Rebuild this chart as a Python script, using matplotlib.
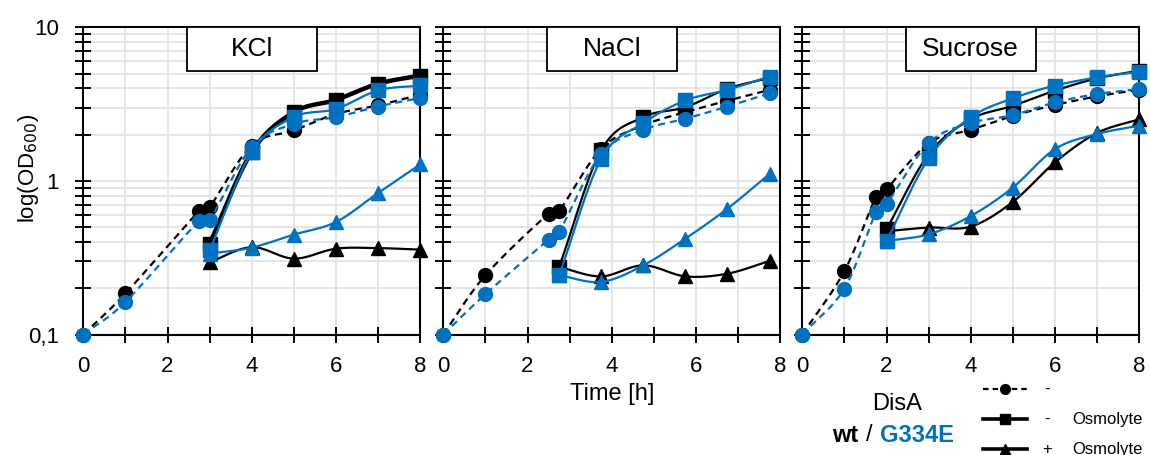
import numpy as np
import matplotlib
matplotlib.use("Agg")
import matplotlib.pyplot as plt
from matplotlib.patches import Rectangle
from matplotlib.lines import Line2D
from matplotlib.ticker import FixedLocator, NullFormatter

plt.rcParams['font.family'] = ['Liberation Sans', 'DejaVu Sans']

BLUE = '#0070C0'
BLACK = '#000000'

panel_names = ['KCl', 'NaCl', 'Sucrose']

# ---- KCl ----
kcl_t_pre = [0, 1, 2.75, 3, 4, 5, 6, 7, 8]
kcl_wt_pre = [0.1, 0.185, 0.636, 0.676, 1.70, 2.13, 2.73, 3.10, 3.65]
kcl_g_pre = [0.1, 0.163, 0.550, 0.555, 1.66, 2.35, 2.60, 3.05, 3.47]
kcl_t_osm = [3, 4, 5, 6, 7, 8]
kcl_wt_minus = [0.39, 1.54, 2.80, 3.37, 4.29, 4.85]
kcl_g_minus = [0.353, 1.54, 2.60, 2.94, 3.88, 4.18]
kcl_wt_plus = [0.296, 0.37, 0.312, 0.362, 0.365, 0.357]
kcl_g_plus = [0.336, 0.368, 0.447, 0.54, 0.833, 1.28]

# ---- NaCl ----
nacl_t_pre = [0, 1, 2.5, 2.75, 3.75, 4.75, 5.75, 6.75, 7.75]
nacl_wt_pre = [0.1, 0.243, 0.612, 0.636, 1.62, 2.30, 2.80, 3.33, 3.91]
nacl_g_pre = [0.1, 0.183, 0.415, 0.465, 1.50, 2.15, 2.54, 3.05, 3.72]
nacl_t_osm = [2.75, 3.75, 4.75, 5.75, 6.75, 7.75]
nacl_wt_minus = [0.275, 1.58, 2.60, 3.02, 3.98, 4.69]
nacl_g_minus = [0.243, 1.39, 2.38, 3.34, 3.92, 4.78]
nacl_wt_plus = [0.275, 0.239, 0.282, 0.239, 0.249, 0.301]
nacl_g_plus = [0.243, 0.22, 0.282, 0.421, 0.66, 1.11]

# ---- Sucrose ----
suc_t_pre = [0, 1, 1.75, 2, 3, 4, 5, 6, 7, 8]
suc_wt_pre = [0.1, 0.259, 0.787, 0.883, 1.76, 2.15, 2.65, 3.12, 3.55, 3.93]
suc_g_pre = [0.1, 0.199, 0.628, 0.705, 1.76, 2.38, 2.68, 3.24, 3.68, 3.96]
suc_t_osm = [2, 3, 4, 5, 6, 7, 8]
suc_wt_minus = [0.484, 1.49, 2.52, 3.08, 3.87, 4.65, 5.22]
suc_g_minus = [0.406, 1.40, 2.59, 3.45, 4.17, 4.72, 5.14]
suc_wt_plus = [0.47, 0.497, 0.504, 0.73, 1.32, 2.05, 2.52]
suc_g_plus = [0.406, 0.449, 0.59, 0.905, 1.61, 2.02, 2.29]

x_ticks = [0, 2, 4, 6, 8]
y_ticks = [0.1, 1, 10]
y_tick_labels = ['0,1', '1', '10']

panels = [
    (kcl_t_pre, kcl_wt_pre, kcl_g_pre, kcl_t_osm, kcl_wt_minus, kcl_g_minus, kcl_wt_plus, kcl_g_plus),
    (nacl_t_pre, nacl_wt_pre, nacl_g_pre, nacl_t_osm, nacl_wt_minus, nacl_g_minus, nacl_wt_plus, nacl_g_plus),
    (suc_t_pre, suc_wt_pre, suc_g_pre, suc_t_osm, suc_wt_minus, suc_g_minus, suc_wt_plus, suc_g_plus),
]


def smooth(t, v, n=24):
    """Catmull-Rom curve through the points, built in display-like units (x, log10 y)."""
    t = np.asarray(t, float)
    v = np.asarray(v, float)
    P = np.column_stack([t * 42.0, np.log10(v) * 154.0])
    if len(P) < 3:
        return t, v
    P = np.vstack([2 * P[0] - P[1], P, 2 * P[-1] - P[-2]])
    out = []
    s = np.linspace(0, 1, n, endpoint=False)[:, None]
    for i in range(1, len(P) - 2):
        p0, p1, p2, p3 = P[i - 1], P[i], P[i + 1], P[i + 2]
        seg = 0.5 * ((2 * p1) + (-p0 + p2) * s + (2 * p0 - 5 * p1 + 4 * p2 - p3) * s ** 2
                     + (-p0 + 3 * p1 - 3 * p2 + p3) * s ** 3)
        out.append(seg)
    out.append(P[-2][None, :])
    out = np.vstack(out)
    return out[:, 0] / 42.0, 10 ** (out[:, 1] / 154.0)


def series(ax, t, v, color, marker, ls, lw, ms, z):
    xs, ys = smooth(t, v)
    line, = ax.plot(xs, ys, color=color, lw=lw, clip_on=False, zorder=z)
    if ls == '--':
        line.set_dashes((3.2, 2.2))
    ax.plot(t, v, ls='none', marker=marker, ms=ms, color=color, mec=color,
            clip_on=False, zorder=z + 0.5)


fig = plt.figure(figsize=(11.5, 4.55), dpi=100)

lefts = [83.3, 443.3, 802.3]
W, H = 1150.0, 455.0
ax_bottom = 1 - 334.5 / H
ax_top = 1 - 27.3 / H

for i, (name, data) in enumerate(zip(panel_names, panels)):
    ax = fig.add_axes([lefts[i] / W, ax_bottom, 336.8 / W, ax_top - ax_bottom])
    ax.set_yscale('log')
    ax.set_xlim(0, 8)
    ax.set_ylim(0.1, 10)

    t_pre, wt_pre, g_pre, t_osm, wt_minus, g_minus, wt_plus, g_plus = data
    thick = 3.2 if i == 0 else 1.6

    series(ax, t_pre, wt_pre, BLACK, 'o', '--', 1.6, 10, 3)
    series(ax, t_osm, wt_plus, BLACK, '^', '-', 1.6, 10, 4)
    series(ax, t_osm, wt_minus, BLACK, 's', '-', thick, 10, 5)
    series(ax, t_osm, g_plus, BLUE, '^', '-', 1.6, 10, 6)
    series(ax, t_osm, g_minus, BLUE, 's', '-', 1.6, 10, 7)
    series(ax, t_pre, g_pre, BLUE, 'o', '--', 1.6, 10, 8)

    # ticks and light grid
    ax.xaxis.set_major_locator(FixedLocator(x_ticks))
    ax.xaxis.set_minor_locator(FixedLocator([1, 3, 5, 7]))
    minor_y = [m * 10.0 ** e for e in (-1, 0) for m in range(2, 10)]
    ax.yaxis.set_major_locator(FixedLocator(y_ticks))
    ax.yaxis.set_minor_locator(FixedLocator(minor_y))
    ax.yaxis.set_minor_formatter(NullFormatter())
    ax.grid(True, which='both', color='#e3e3e3', lw=1.3, zorder=0)
    ax.set_axisbelow(True)

    ax.tick_params(axis='both', which='both', direction='inout', length=11,
                   width=1.4, color='black', labelsize=16)
    ax.tick_params(axis='x', which='both', pad=10)
    ax.tick_params(axis='y', which='both', pad=12)
    ax.set_xticklabels([str(x) for x in x_ticks])
    if i == 0:
        ax.set_yticklabels(y_tick_labels)
        ax.set_ylabel('log(OD$_{600}$)', fontsize=16)
        ax.yaxis.set_label_coords(-0.127, 0.54)
    else:
        ax.set_yticklabels([])
    for sp in ax.spines.values():
        sp.set_linewidth(1.5)
        sp.set_color('black')
        sp.set_zorder(2)

    ax.add_patch(Rectangle((0.307, 0.857), 0.386, 0.143, transform=ax.transAxes,
                           facecolor='white', edgecolor='black', lw=1.3, zorder=10,
                           clip_on=False))
    ax.text(0.5, 0.928, name, transform=ax.transAxes, ha='center', va='center',
            fontsize=19, zorder=11)

    if i == 1:
        ax.set_xlabel('Time [h]', fontsize=17, labelpad=4)


def fy(py):
    return 1 - py / H


# strain key
fig.text(896.7 / W, fy(404), 'DisA', ha='center', va='center', fontsize=17)
fig.text(858 / W, fy(435), 'wt', ha='right', va='center', fontsize=17, fontweight='bold')
fig.text(869 / W, fy(435), '/', ha='center', va='center', fontsize=17)
fig.text(880 / W, fy(435), 'G334E', ha='left', va='center', fontsize=17,
         fontweight='bold', color=BLUE)

# condition key
legend_rows = [('o', '--', '-', ''), ('s', '-', '-', 'Osmolyte'), ('^', '-', '+', 'Osmolyte')]
row_y = [389.3, 419.3, 449.3]
for (mk, ls, sign, word), py in zip(legend_rows, row_y):
    ln = Line2D([983 / W, 1027 / W], [fy(py), fy(py)], transform=fig.transFigure,
                color='black', lw=1.6 if ls == '--' else 2.6)
    if ls == '--':
        ln.set_dashes((2.5, 1.8))
    fig.add_artist(ln)
    fig.add_artist(Line2D([1005 / W], [fy(py)], transform=fig.transFigure, ls='none',
                          marker=mk, ms=7, color='black'))
    fig.text(1047 / W, fy(py), sign, ha='center', va='center', fontsize=12)
    if word:
        fig.text(1072 / W, fy(py), word, ha='left', va='center', fontsize=12)

fig.savefig('out.png', dpi=100)
